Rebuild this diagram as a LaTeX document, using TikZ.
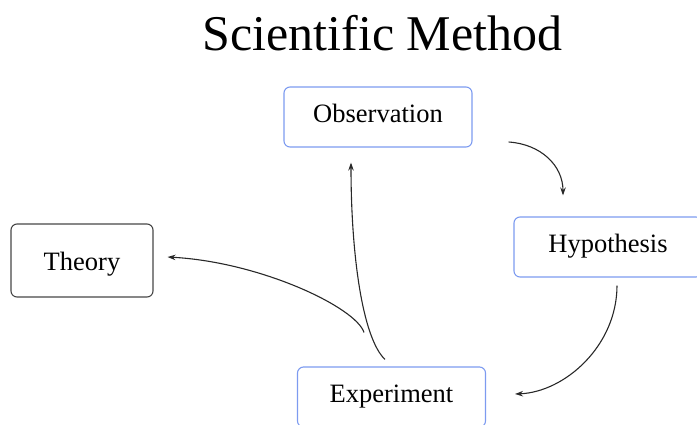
\documentclass[tikz,border=0pt]{standalone}
\usepackage{fontspec}
\setmainfont{Liberation Serif}
\usetikzlibrary{arrows.meta}
\definecolor{boxBlue}{RGB}{125,155,240}
\definecolor{boxGray}{RGB}{70,70,70}
\definecolor{arrowGray}{RGB}{40,40,40}

\begin{document}
\begin{tikzpicture}[x = 1pt, y = -1pt,
        stepBox/.style = {draw = boxBlue, line width = 1.1pt, rounded corners = 6pt,
            minimum width = 188pt, minimum height = 60pt, inner sep = 0pt,
            text height = 18pt, text depth = 8pt,
            font = \fontsize{26.5}{30}\selectfont},
        theoryBox/.style = {stepBox, draw = boxGray, minimum width = 142pt, minimum height = 73pt,
            text height = 20pt, text depth = 0pt},
        conn/.style = {draw = arrowGray, line width = 1.1pt, -{Stealth[length = 8pt, width = 5.5pt]}}]
        \useasboundingbox (0,0) rectangle (697,424);
        \clip (0,0) rectangle (697,424);

        \node[font = \fontsize{50}{56}\selectfont, anchor = base] (title) at (382.5,50) {Scientific Method};

        \foreach \boxname/\xpos/\ypos/\boxtext in {obs/378/117/Observation, hyp/608/247/Hypothesis, exp/391.5/397/Experiment}
        {
            \node[stepBox] (\boxname) at (\xpos,\ypos) {\boxtext};
        }
        \node[theoryBox] (theory) at (82,260.5) {Theory};

        \draw[conn] ([shift = {(36,25)}]obs.east) .. controls +(32,2) and +(0,-30) .. ([shift = {(-45,-21)}]hyp.north);
        \draw[conn] ([shift = {(9,8)}]hyp.south) .. controls +(0,60) and +(50,-2) .. ([shift = {(29,-3)}]exp.east);
        \draw[conn] ([shift = {(-6.5,-7)}]exp.north) .. controls +(-23,-22) and +(0,90) .. ([shift = {(-27,15)}]obs.south);
        \draw[conn] ([shift = {(-27.5,-34)}]exp.north) .. controls +(-8,-25) and +(93,5) .. ([shift = {(14,-3.5)}]theory.east);
    \end{tikzpicture}
\end{document}
